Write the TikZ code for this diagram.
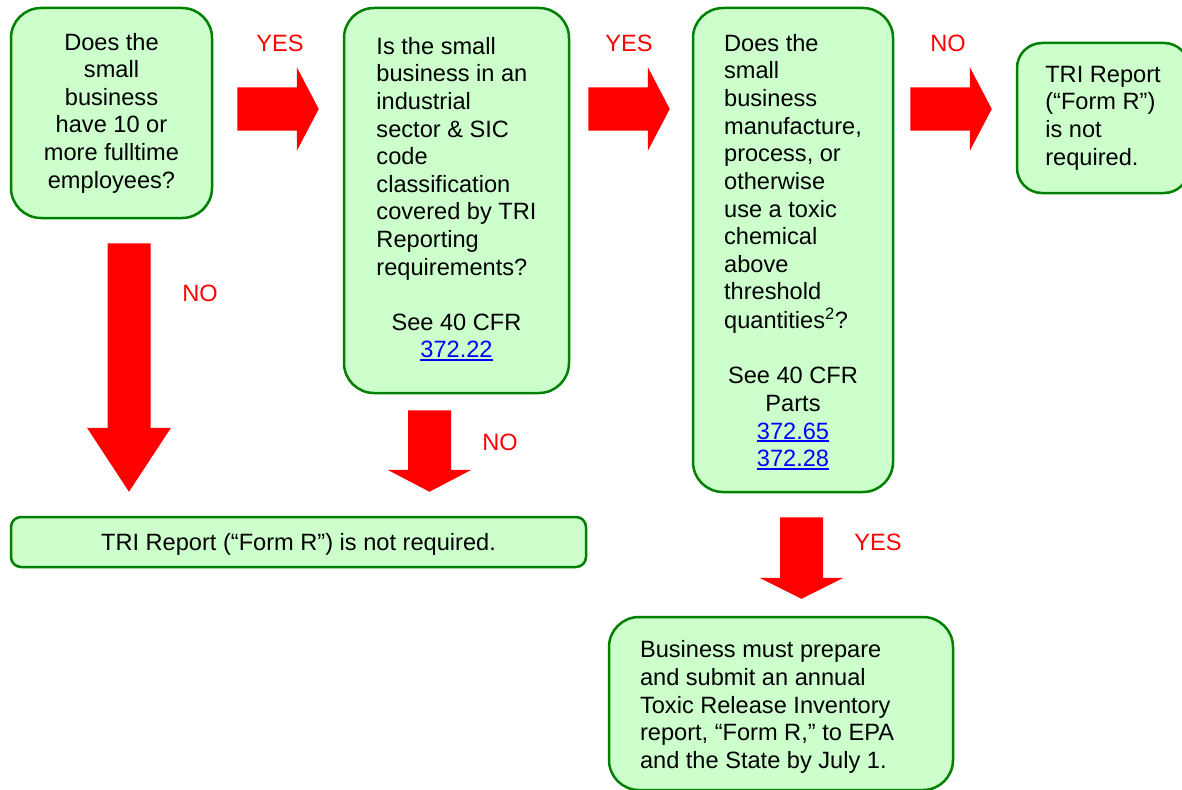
\documentclass[tikz,border=0pt]{standalone}
\usepackage{fontspec}
\setmainfont{Liberation Sans}
\usetikzlibrary{calc}
\definecolor{boxfill}{HTML}{CCFFCC}
\definecolor{boxline}{HTML}{008000}
\definecolor{arrowred}{HTML}{FF0000}
\definecolor{linkblue}{HTML}{0000FF}
\newcommand\lnk[1]{\textcolor{linkblue}{\setbox0\hbox{#1}\rlap{\rule[-3pt]{\wd0}{1.8pt}}\box0}}
\newcommand\ctr[1]{\multicolumn{1}{@{}c@{}}{#1}}
\newcommand\dropby[2]{\raisebox{-#1}[\height][\depth]{#2}}
\newcommand\blockH[3]{\fill[arrowred] ($(#1)+(0,-21.5)$) -- ($(#2)+(-#3,-21.5)$) -- ($(#2)+(-#3,-42)$) -- (#2) -- ($(#2)+(-#3,42)$) -- ($(#2)+(-#3,21.5)$) -- ($(#1)+(0,21.5)$) -- cycle;}
\newcommand\blockV[3]{\fill[arrowred] ($(#1)+(-21.5,0)$) -- ($(#2)+(-21.5,-#3)$) -- ($(#2)+(-42,-#3)$) -- (#2) -- ($(#2)+(42,-#3)$) -- ($(#2)+(21.5,-#3)$) -- ($(#1)+(21.5,0)$) -- cycle;}
\tikzset{
  qbox/.style={draw=boxline, fill=boxfill, line width=2.5pt, rounded corners=30pt, inner sep=0pt,
    font=\fontsize{23.6}{27.6}\selectfont},
  lbl/.style={text=arrowred, inner sep=0pt, font=\fontsize{23.6}{27.6}\selectfont}
}
\begin{document}
\begin{tikzpicture}[x=1pt, y=-1pt]
\useasboundingbox (0,0) rectangle (1182,789);

% boxes
\node[qbox, minimum width=201pt, minimum height=210pt, align=center] (b1) at (111.5,113)
  {Does the\\small\\business\\have 10 or\\more fulltime\\employees?};
\node[qbox, minimum width=225pt, minimum height=385pt] (b2) at (456.5,200.5)
  {\begin{tabular}{@{}l@{}}Is the small\\business in an\\industrial\\sector \& SIC\\code\\classification\\covered by TRI\\Reporting\\requirements?\\ \\ \ctr{See 40 CFR}\\ \ctr{\lnk{372.22}}\end{tabular}};
\node[qbox, minimum width=200pt, minimum height=484pt] (b3) at (793,250)
  {\dropby{3.5pt}{\begin{tabular}{@{}l@{}}Does the\\small\\business\\manufacture,\\process, or\\otherwise\\use a toxic\\chemical\\above\\threshold\\quantities\textsuperscript{2}?\\ \\ \ctr{See 40 CFR}\\ \ctr{Parts}\\ \ctr{\lnk{372.65}}\\ \ctr{\lnk{372.28}}\end{tabular}}};
\node[qbox, rounded corners=25pt, minimum width=172pt, minimum height=150pt, align=left] (b4) at (1103,118)
  {TRI Report\\(“Form R”)\\is not\\required.};
\node[qbox, minimum width=344pt, minimum height=173pt] (b5) at (781,703.5)
  {\dropby{4pt}{\begin{tabular}{@{}l@{\hspace{28pt}}}Business must prepare\\and submit an annual\\Toxic Release Inventory\\report, “Form R,” to EPA\\and the State by July 1.\end{tabular}}};
\node[qbox, rounded corners=10pt, minimum width=575pt, minimum height=50pt] (b6) at (298.5,542)
  {\dropby{2.5pt}{TRI Report (“Form R”) is not required.}};

% arrow end points
\coordinate (a1s) at ($(b1.east)+(24,-4)$);
\coordinate (a1e) at ($(b2.west |- a1s)+(-24,0)$);
\coordinate (a2s) at ($(b2.east |- a1s)+(18,0)$);
\coordinate (a2e) at ($(b3.west |- a1s)+(-22,0)$);
\coordinate (a3s) at ($(b3.east |- a1s)+(16,0)$);
\coordinate (a3e) at ($(b4.west |- a1s)+(-24,0)$);
\coordinate (d1s) at ($(b1.south)+(17.5,24)$);
\coordinate (d1e) at ($(d1s |- b6.north)+(0,-24)$);
\coordinate (d2s) at ($(b2.south)+(-27,16)$);
\coordinate (d2e) at ($(d2s |- b6.north)+(0,-24)$);
\coordinate (d3s) at ($(b3.south)+(8.5,24)$);
\coordinate (d3e) at ($(d3s |- b5.north)+(0,-17)$);

% block arrows
\blockH{a1s}{a1e}{22}
\blockH{a2s}{a2e}{22}
\blockH{a3s}{a3e}{22}
\blockV{d1s}{d1e}{64}
\blockV{d2s}{d2e}{22}
\blockV{d3s}{d3e}{21}

% labels
\node[lbl] (y1) at (280,43) {YES};
\node[lbl] (y2) at (629,43) {YES};
\node[lbl] (n3) at (948,43) {NO};
\node[lbl] (n1) at (200,293) {NO};
\node[lbl] (n2) at (500,442) {NO};
\node[lbl] (y3) at (878,542) {YES};
\end{tikzpicture}
\end{document}
